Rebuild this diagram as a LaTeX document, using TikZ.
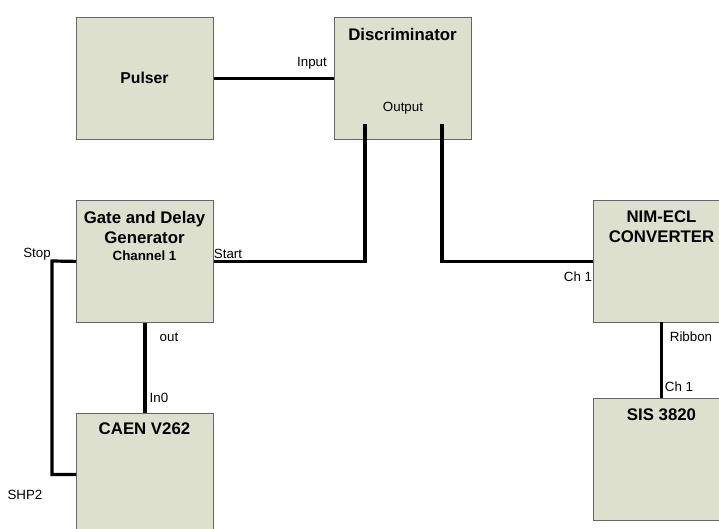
\documentclass[tikz,border=0pt]{standalone}
\usepackage{fontspec}
\setmainfont{Liberation Sans}
\definecolor{boxfill}{RGB}{221,224,204}
\begin{document}
\begin{tikzpicture}[x=0.75pt,y=-0.75pt,
  box/.style={draw=black!60, line width=0.6pt, fill=boxfill, minimum width=102.75pt, minimum height=91.5pt, inner sep=0pt, anchor=north west},
  title/.style={font=\bfseries\fontsize{12.6}{15}\selectfont, align=center, inner sep=0pt},
  sub/.style={font=\bfseries\fontsize{10}{12}\selectfont, inner sep=0pt},
  lbl/.style={font=\fontsize{10}{12}\selectfont, inner sep=0pt},
  wire/.style={line width=2.4pt, black}]
\useasboundingbox (0,0) rectangle (719,529);
% boxes
\node[box] (pulser) at (76,17) {};
\node[box] (disc) at (334,17) {};
\node[box] (gate) at (76,200) {};
\node[box] (caen) at (76,413) {};
\node[box, minimum width=112pt] (nim) at (593,200) {};
\node[box, minimum width=112pt] (sis) at (593,398) {};
% titles
\node[title, font=\bfseries\fontsize{11.8}{15}\selectfont] (tpulser) at (144.5,78) {Pulser};
\node[title] (tdisc) at (402.5,34) {Discriminator};
\node[title] (tgate) at (144.5,227) {Gate and Delay\\Generator};
\node[sub] (tchan) at (144.5,256) {Channel 1};
\node[title] (tcaen) at (144.5,429) {CAEN V262};
\node[title] (tnim) at (661.5,227) {NIM-ECL\\CONVERTER};
\node[title] (tsis) at (661.5,415) {SIS 3820};
% internal port points
\coordinate (o1) at (365,124);
\coordinate (o2) at (442,124);
\coordinate (sbend) at (52,261);
\coordinate (nimport) at (661.5,322);
\coordinate (sisport) at (661.5,398);
% wires
\draw[wire] (pulser.east) -- (disc.west);
\draw[wire] (gate.east) -| (o1);
\draw[wire] (o2) |- (nim.west);
\draw[wire] (gate.south) -- (caen.north);
\draw[wire] (nimport) -- (sisport);
\draw[wire] (gate.west) -- (sbend) |- (caen.west);
% labels
\node[lbl] (linput) at (312,63) {Input};
\node[lbl] (loutput) at (403,108) {Output};
\node[lbl] (lstop) at (37,254) {Stop};
\node[lbl] (lstart) at (228,254) {Start};
\node[lbl] (lout) at (169,337) {out};
\node[lbl] (lin0) at (159,398) {In0};
\node[lbl] (lshp) at (25,495) {SHP2};
\node[lbl] (lch1a) at (578,277) {Ch 1};
\node[lbl] (lrib) at (691,337) {Ribbon};
\node[lbl] (lch1b) at (679,387) {Ch 1};
\end{tikzpicture}
\end{document}
